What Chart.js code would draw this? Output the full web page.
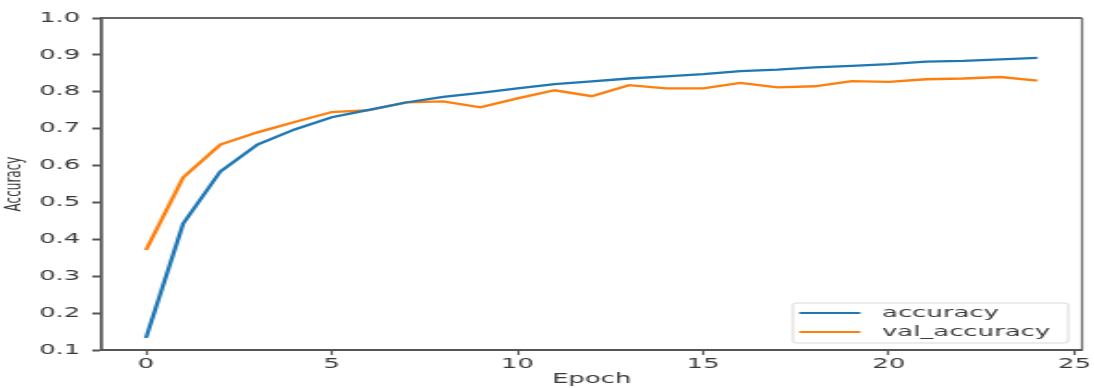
<!DOCTYPE html>
<html>
<head>
<meta charset="utf-8">
<script src="https://cdn.jsdelivr.net/npm/chart.js@4/dist/chart.umd.min.js"></script>
<style>
  html, body { margin: 0; padding: 0; background: #fff; overflow: hidden; }
  /* the reference is a stretched matplotlib figure, so draw narrow and stretch sideways */
  #myChart { transform: scaleX(1.848); transform-origin: 0 0; }
</style>
</head>
<body>
<canvas id="myChart" width="592" height="388"></canvas>
<script>
// values
const epochs = [0,1,2,3,4,5,6,7,8,9,10,11,12,13,14,15,16,17,18,19,20,21,22,23,24];
const accuracy = [0.133,0.443,0.584,0.657,0.698,0.731,0.751,0.771,0.786,0.797,0.809,0.821,0.828,0.836,0.842,0.848,0.856,0.860,0.866,0.870,0.875,0.882,0.884,0.888,0.892];
const valAccuracy = [0.371,0.568,0.657,0.690,0.718,0.745,0.750,0.771,0.774,0.758,0.782,0.804,0.788,0.818,0.809,0.809,0.824,0.812,0.815,0.829,0.827,0.834,0.836,0.840,0.830];
const xTicks = [0,5,10,15,20,25];
const yTicks = [0.1,0.2,0.3,0.4,0.5,0.6,0.7,0.8,0.9,1.0];

const toPoints = (ys) => epochs.map((e, i) => ({x: e, y: ys[i]}));

const tickFont = {family: 'DejaVu Sans', size: 14};
const textColor = '#3a3a3a';
const axisColor = '#555';

const frame = {
    id: 'frame',
    afterDatasetsDraw: (chart) => {
        const ctx = chart.ctx;
        const a = chart.chartArea;
        ctx.save();
        ctx.strokeStyle = '#666';
        ctx.lineWidth = 2;
        ctx.beginPath();
        ctx.moveTo(a.left, a.top);
        ctx.lineTo(a.right, a.top);
        ctx.stroke();
        ctx.lineWidth = 1.2;
        ctx.beginPath();
        ctx.moveTo(a.right, a.top);
        ctx.lineTo(a.right, a.bottom);
        ctx.stroke();
        ctx.restore();
    }
};

// legend box in the lower right, like matplotlib's "best" spot
const legendBox = {
    id: 'legendBox',
    afterDraw: (chart) => {
        const ctx = chart.ctx;
        const a = chart.chartArea;
        const w = 149, h = 40;
        const x = a.right - 7.5 - w, y = a.bottom - 7 - h;
        ctx.save();
        ctx.fillStyle = 'rgba(255,255,255,0.85)';
        ctx.strokeStyle = '#d8d8d8';
        ctx.lineWidth = 1;
        ctx.beginPath();
        ctx.roundRect(x, y, w, h, 2);
        ctx.fill();
        ctx.stroke();
        ctx.font = '14px "DejaVu Sans"';
        ctx.textBaseline = 'middle';
        chart.data.datasets.forEach((ds, i) => {
            const ly = y + 10 + i * 19;
            ctx.strokeStyle = ds.borderColor;
            ctx.lineWidth = 2;
            ctx.beginPath();
            ctx.moveTo(x + 3.5, ly);
            ctx.lineTo(x + 36.5, ly);
            ctx.stroke();
            ctx.fillStyle = textColor;
            ctx.fillText(ds.label, x + 48.3, ly);
        });
        ctx.restore();
    }
};

const ctx = document.getElementById('myChart').getContext('2d');

new Chart(ctx, {
    type: 'line',
    plugins: [frame, legendBox],
    data: {
        datasets: [{
            label: 'accuracy',
            data: toPoints(accuracy),
            borderColor: '#1f77b4',
            borderWidth: 2.3,
            pointRadius: 0,
            tension: 0,
            fill: false
        }, {
            label: 'val_accuracy',
            data: toPoints(valAccuracy),
            borderColor: '#ff7f0e',
            borderWidth: 2.3,
            pointRadius: 0,
            tension: 0,
            fill: false
        }]
    },
    options: {
        responsive: false,
        animation: false,
        layout: {padding: {top: 18, right: 6.5, left: 0, bottom: 0}},
        plugins: {
            legend: {display: false},
            tooltip: {enabled: false}
        },
        scales: {
            x: {
                type: 'linear',
                min: -1.2,
                max: 25.2,
                afterBuildTicks: (scale) => { scale.ticks = xTicks.map(v => ({value: v})); },
                afterFit: (scale) => { scale.height = 38; },
                grid: {drawOnChartArea: false, drawTicks: true, tickLength: 5, tickWidth: 1.2, color: axisColor},
                border: {display: true, color: axisColor, width: 2},
                ticks: {font: tickFont, color: textColor, padding: 1, maxRotation: 0},
                title: {display: true, text: 'Epoch', font: {family: 'DejaVu Sans', size: 14}, color: textColor, padding: {top: 0, bottom: 0}}
            },
            y: {
                min: 0.1,
                max: 1.0,
                afterBuildTicks: (scale) => { scale.ticks = yTicks.map(v => ({value: v})); },
                afterFit: (scale) => { scale.width = 54.9; },
                grid: {drawOnChartArea: false, drawTicks: true, tickLength: 5, tickWidth: 2, color: axisColor},
                border: {display: true, color: axisColor, width: 1.7},
                ticks: {font: tickFont, color: textColor, padding: 6.5, callback: (v) => Number(v).toFixed(1)},
                title: {display: true, text: 'Accuracy', font: {family: 'DejaVu Sans', size: 12}, color: textColor, padding: {top: 1, bottom: 0}}
            }
        }
    }
});
</script>
</body>
</html>
